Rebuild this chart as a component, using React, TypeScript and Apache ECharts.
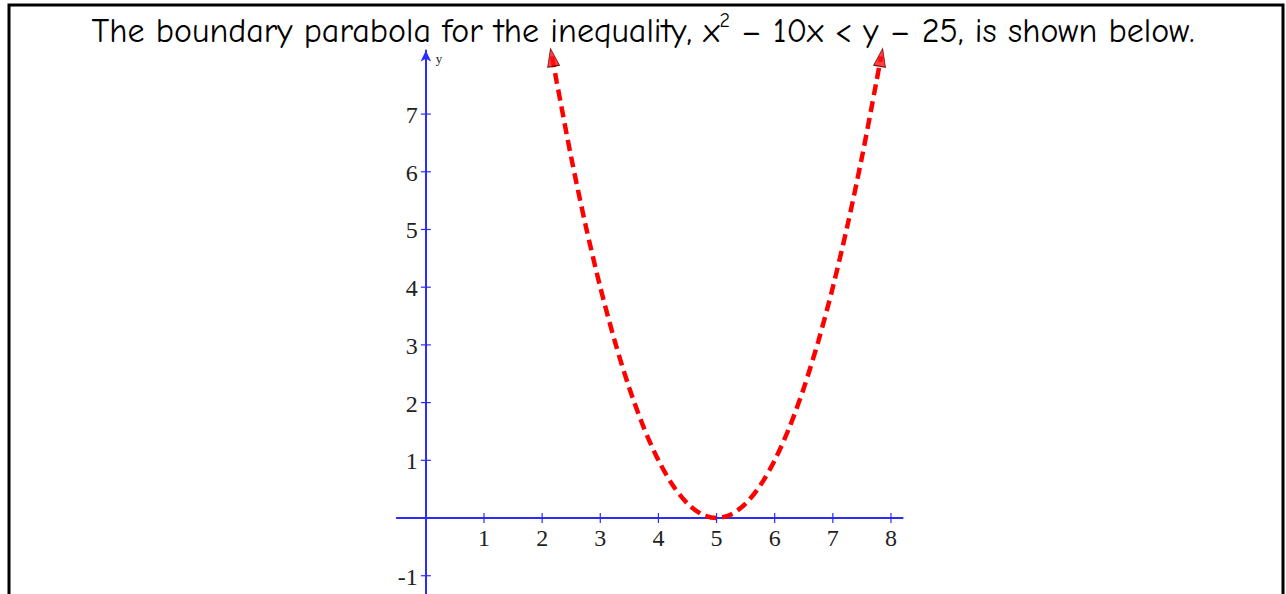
import React, { useEffect, useRef } from "react";
import * as echarts from "echarts";

// Points on the boundary parabola y = (x - 5)^2
const curveX = [2.17, 2.25, 2.5, 2.75, 3, 3.25, 3.5, 3.75, 4, 4.25, 4.5, 4.75, 5, 5.25, 5.5, 5.75, 6, 6.25, 6.5, 6.75, 7, 7.25, 7.5, 7.75, 7.83];
const curveY = [8, 7.5625, 6.25, 5.0625, 4, 3.0625, 2.25, 1.5625, 1, 0.5625, 0.25, 0.0625, 0, 0.0625, 0.25, 0.5625, 1, 1.5625, 2.25, 3.0625, 4, 5.0625, 6.25, 7.5625, 8];

// Axis tick positions and their labels
const xTicks = [1, 2, 3, 4, 5, 6, 7, 8];
const yTicks = [-1, 1, 2, 3, 4, 5, 6, 7];

const AXIS_BLUE = "#2b2bff";
const SERIF = '"Liberation Serif", "Times New Roman", serif';
const COMIC = '"Comic Sans MS", "Comic Neue", "Open Sans", sans-serif';

export default function App() {
  const ref = useRef<HTMLDivElement>(null);

  useEffect(() => {
    if (!ref.current) return;
    const chart = echarts.init(ref.current, null, { renderer: "svg" });

    const curve = curveX.map((x, i) => [x, curveY[i]]);
    const last = curve.length - 1;

    // Cross-shaped tick on the axis line plus its number label
    const tickItem = (onYAxis: boolean) => (params: any, api: any) => {
      const v = onYAxis ? api.value(1) : api.value(0);
      const p = api.coord([api.value(0), api.value(1)]);
      const h = 5;
      return {
        type: "group",
        children: [
          {
            type: "line",
            shape: onYAxis
              ? { x1: p[0] - h, y1: p[1], x2: p[0] + h, y2: p[1] }
              : { x1: p[0], y1: p[1] - h, x2: p[0], y2: p[1] + h },
            style: { stroke: AXIS_BLUE, lineWidth: 1.2 },
          },
          {
            type: "text",
            x: onYAxis ? p[0] - 8 : p[0],
            y: onYAxis ? p[1] + 1 : p[1] + 20,
            style: {
              text: String(v),
              fill: "#222",
              fontFamily: SERIF,
              fontSize: 24,
              align: onYAxis ? "right" : "center",
              verticalAlign: "middle",
            },
          },
        ],
      };
    };

    chart.setOption({
      animation: false,
      backgroundColor: "#ffffff",
      title: {
        text: "The boundary parabola for the inequality, x{sup|2} – 10x < y – 25, is shown below.",
        left: "center",
        top: 5,
        textStyle: {
          fontFamily: COMIC,
          fontSize: 34,
          fontWeight: "normal",
          color: "#000",
          lineHeight: 42,
          rich: {
            sup: {
              fontFamily: COMIC,
              fontSize: 20,
              verticalAlign: "top",
              lineHeight: 22,
              color: "#000",
            },
          },
        },
      },
      graphic: [
        {
          type: "polyline",
          shape: { points: [[9, 600], [9, 5], [1283, 5], [1283, 600]] },
          style: { stroke: "#000", lineWidth: 3, fill: "none" },
          z: 10,
        },
      ],
      grid: {
        left: 396.8,
        top: 50.6,
        width: 505.8,
        height: 548.2,
        outerBoundsMode: "none",
      },
      xAxis: {
        type: "value",
        min: -0.5,
        max: 8.2,
        splitLine: { show: false },
        axisLine: {
          onZero: true,
          lineStyle: { color: AXIS_BLUE, width: 2 },
        },
        axisTick: { show: false },
        axisLabel: { show: false },
      },
      yAxis: {
        type: "value",
        min: -1.4,
        max: 8.1,
        name: "y",
        nameLocation: "end",
        nameGap: -14,
        nameTextStyle: {
          fontFamily: SERIF,
          fontSize: 13,
          color: "#222",
          align: "left",
          padding: [0, 0, 0, 10],
        },
        splitLine: { show: false },
        axisLine: {
          onZero: true,
          symbol: ["none", "arrow"],
          symbolSize: [8, 11],
          lineStyle: { color: AXIS_BLUE, width: 2 },
        },
        axisTick: { show: false },
        axisLabel: { show: false },
      },
      series: [
        {
          type: "custom",
          data: xTicks.map((v) => [v, 0]),
          renderItem: tickItem(false),
          silent: true,
          clip: false,
          z: 3,
        },
        {
          type: "custom",
          data: yTicks.map((v) => [0, v]),
          renderItem: tickItem(true),
          silent: true,
          clip: false,
          z: 3,
        },
        {
          type: "line",
          data: curve,
          smooth: 0.3,
          showSymbol: false,
          lineStyle: { color: "#ff0000", width: 4.5, type: [11, 6] },
          z: 5,
        },
        {
          type: "scatter",
          data: [
            { value: curve[0], symbolRotate: 10 },
            { value: curve[last], symbolRotate: -10 },
          ],
          symbol: "triangle",
          symbolSize: [12, 18],
          symbolOffset: [0, 1],
          itemStyle: { color: "#ff1010", borderColor: "#5a0000", borderWidth: 1 },
          z: 6,
        },
      ],
    });

    return () => chart.dispose();
  }, []);

  return (
    <div
      ref={ref}
      style={{ position: "absolute", left: 0, top: 0, width: 1286, height: 594 }}
    />
  );
}
